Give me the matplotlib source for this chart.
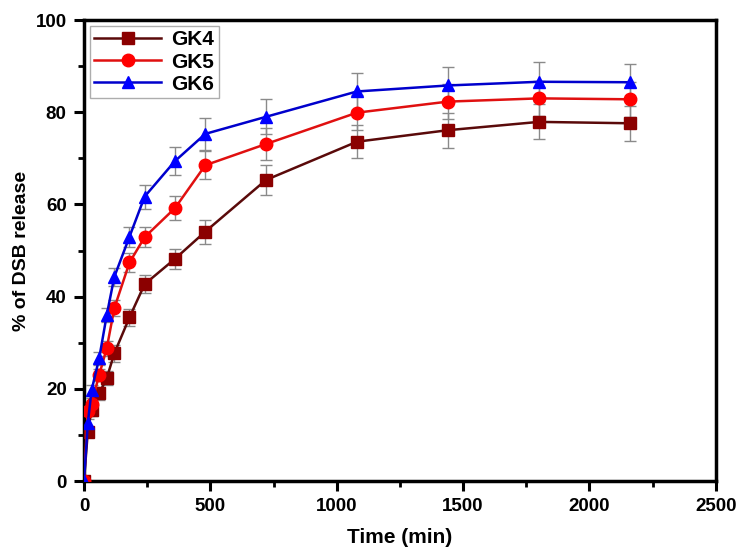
import numpy as np
import matplotlib.pyplot as plt
from matplotlib.ticker import MultipleLocator

plt.rcParams['font.family'] = ['Liberation Sans', 'DejaVu Sans']

# sampling times (min)
time = [0, 15, 30, 60, 90, 120, 180, 240, 360, 480, 720, 1080, 1440, 1800, 2160]

gk4 = [0, 10.7, 15.4, 19.0, 22.3, 27.7, 35.5, 42.7, 48.2, 54.1, 65.3, 73.6, 76.1, 77.9, 77.6]
gk5 = [0, 15.2, 16.8, 23.0, 28.8, 37.5, 47.4, 52.9, 59.2, 68.5, 73.1, 79.9, 82.3, 83.0, 82.8]
gk6 = [0, 12.5, 19.7, 26.6, 36.0, 44.3, 53.0, 61.7, 69.4, 75.3, 79.0, 84.5, 85.8, 86.6, 86.5]

gk4_err = [0, 1.0, 1.2, 1.4, 1.5, 1.8, 1.8, 2.0, 2.2, 2.6, 3.2, 3.6, 3.8, 3.8, 3.8]
gk5_err = [0, 1.0, 1.2, 1.4, 1.6, 1.8, 2.0, 2.2, 2.6, 3.0, 3.4, 3.8, 3.8, 3.8, 3.8]
gk6_err = [0, 1.0, 1.2, 1.4, 1.6, 2.0, 2.2, 2.6, 3.0, 3.4, 3.8, 4.0, 4.0, 4.2, 4.0]

series = [
    ("GK4", gk4, gk4_err, '#8b0000', '#5a0a0a', 's'),
    ("GK5", gk5, gk5_err, '#ff0000', '#e01010', 'o'),
    ("GK6", gk6, gk6_err, '#0000ff', '#0000cc', '^'),
]

fig = plt.figure(figsize=(7.48, 5.51), dpi=100)
ax = fig.add_axes([0.1123, 0.127, 0.8447, 0.8367])

for name, vals, err, mcol, lcol, mk in series:
    ax.errorbar(time, vals, yerr=err, fmt='none', ecolor='#8a8a8a',
                elinewidth=1.0, capsize=4, capthick=1.0, zorder=1)
    ax.plot(time, vals, color=lcol, lw=1.8, marker=mk, markersize=9,
            markerfacecolor=mcol, markeredgecolor=mcol, label=name, zorder=3)

ax.set_xlim(0, 2500)
ax.set_ylim(0, 100)
ax.xaxis.set_major_locator(MultipleLocator(500))
ax.xaxis.set_minor_locator(MultipleLocator(250))
ax.yaxis.set_major_locator(MultipleLocator(20))
ax.yaxis.set_minor_locator(MultipleLocator(10))

for sp in ax.spines.values():
    sp.set_linewidth(2.5)
ax.tick_params(which='major', direction='out', length=7.5, width=2.2,
               labelsize=13.5, pad=5)
ax.tick_params(which='minor', direction='out', length=4, width=2)
for lab in ax.get_xticklabels() + ax.get_yticklabels():
    lab.set_fontweight('bold')

ax.set_xlabel('Time (min)', fontsize=15, fontweight='bold', labelpad=9)
ax.set_ylabel('% of DSB release', fontsize=14, fontweight='bold', labelpad=4)

leg = ax.legend(loc='upper left', fontsize=15, frameon=True, fancybox=False,
                edgecolor='#999999', borderaxespad=0.3, handlelength=3.2,
                labelspacing=0.15, borderpad=0.2, handletextpad=0.5)
leg.get_frame().set_linewidth(1.0)
for t in leg.get_texts():
    t.set_fontweight('bold')

fig.savefig('out.png', dpi=100)
